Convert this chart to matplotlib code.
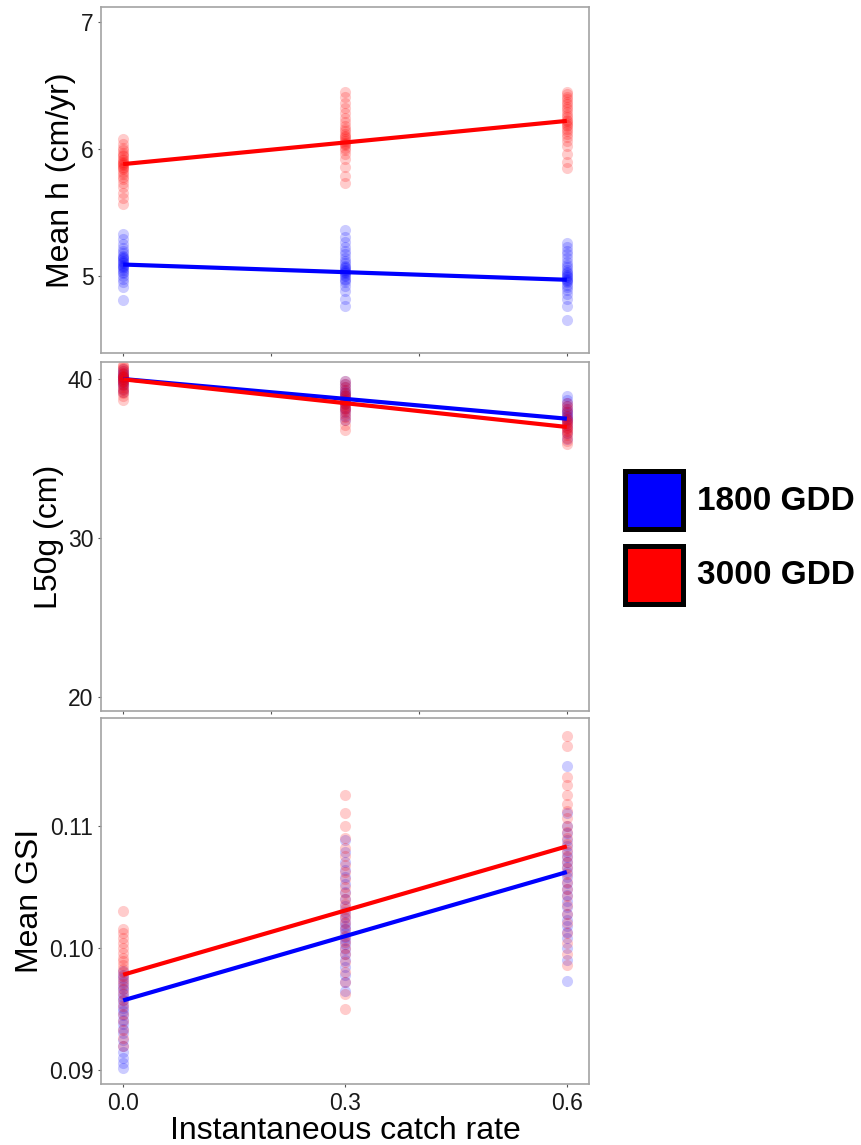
"""
Three stacked panels: mean h, L50g and mean GSI against catch rate, for two GDD levels.
"""
import matplotlib
matplotlib.use("Agg")
import matplotlib.pyplot as plt
from matplotlib.patches import Rectangle

plt.rcParams["font.family"] = ["Liberation Sans", "DejaVu Sans"]

# catch rates used in the simulations
catch_rates = [0.0, 0.3, 0.6]
fit_x = [0.0, 0.6]

# Mean h (cm/yr), one list per catch rate
h_blue = [
    [4.81, 4.91, 4.95, 4.98, 5.00, 5.02, 5.03, 5.05, 5.06, 5.07, 5.08, 5.09, 5.10,
     5.11, 5.12, 5.13, 5.14, 5.15, 5.16, 5.18, 5.20, 5.22, 5.25, 5.29, 5.33],
    [4.76, 4.82, 4.88, 4.92, 4.95, 4.97, 4.98, 5.00, 5.01, 5.02, 5.03, 5.04, 5.05,
     5.06, 5.07, 5.08, 5.10, 5.12, 5.14, 5.17, 5.20, 5.23, 5.27, 5.31, 5.36],
    [4.65, 4.76, 4.82, 4.86, 4.89, 4.91, 4.93, 4.95, 4.96, 4.97, 4.98, 4.99, 5.00,
     5.01, 5.02, 5.03, 5.05, 5.07, 5.09, 5.11, 5.14, 5.17, 5.20, 5.23, 5.26],
]
h_red = [
    [5.57, 5.61, 5.65, 5.70, 5.73, 5.76, 5.78, 5.80, 5.82, 5.84, 5.85, 5.86, 5.87,
     5.88, 5.89, 5.90, 5.91, 5.92, 5.94, 5.95, 5.97, 5.99, 6.01, 6.04, 6.08],
    [5.73, 5.79, 5.86, 5.92, 5.96, 5.99, 6.01, 6.03, 6.04, 6.05, 6.06, 6.08, 6.09,
     6.10, 6.12, 6.14, 6.16, 6.18, 6.21, 6.24, 6.28, 6.32, 6.36, 6.41, 6.45],
    [5.85, 5.90, 5.96, 6.02, 6.06, 6.09, 6.12, 6.14, 6.16, 6.18, 6.19, 6.20, 6.22,
     6.23, 6.25, 6.27, 6.29, 6.31, 6.33, 6.35, 6.37, 6.39, 6.41, 6.43, 6.45],
]
h_fit_blue = [5.09, 4.97]
h_fit_red = [5.88, 6.22]

# L50g (cm)
l_blue = [
    [39.2, 39.4, 39.6, 39.7, 39.8, 39.9, 40.0, 40.0, 40.1, 40.1, 40.2, 40.3, 40.4,
     40.5, 40.6],
    [37.4, 37.7, 37.9, 38.1, 38.2, 38.4, 38.5, 38.6, 38.7, 38.8, 38.9, 39.0, 39.1,
     39.2, 39.3, 39.5, 39.7, 39.9],
    [36.2, 36.6, 36.9, 37.1, 37.3, 37.4, 37.5, 37.6, 37.7, 37.8, 37.9, 38.0, 38.1,
     38.3, 38.5, 38.7, 38.9],
]
l_red = [
    [38.7, 38.9, 39.1, 39.2, 39.3, 39.4, 39.5, 39.6, 39.7, 39.8, 39.9, 39.9, 40.0,
     40.0, 40.1, 40.1, 40.2, 40.2, 40.3, 40.4, 40.5, 40.6, 40.7, 40.8, 40.9],
    [36.8, 37.1, 37.4, 37.6, 37.8, 38.0, 38.1, 38.2, 38.3, 38.4, 38.5, 38.6, 38.7,
     38.8, 38.9, 39.0, 39.1, 39.3, 39.5, 39.7, 39.9],
    [35.9, 36.1, 36.3, 36.5, 36.6, 36.7, 36.8, 36.9, 37.0, 37.1, 37.2, 37.3, 37.4,
     37.5, 37.7, 37.9, 38.1, 38.3, 38.5],
]
l_fit_blue = [40.0, 37.5]
l_fit_red = [39.98, 36.98]

# Mean GSI
g_blue = [
    [0.0902, 0.0906, 0.0910, 0.0915, 0.0920, 0.0925, 0.0930, 0.0934, 0.0938, 0.0941,
     0.0945, 0.0948, 0.0951, 0.0954, 0.0957, 0.0960, 0.0963, 0.0966, 0.0969, 0.0972,
     0.0975, 0.0978, 0.0981],
    [0.0965, 0.0972, 0.0978, 0.0984, 0.0990, 0.0995, 0.0999, 0.1003, 0.1006, 0.1009,
     0.1012, 0.1015, 0.1018, 0.1021, 0.1025, 0.1029, 0.1034, 0.1040, 0.1046, 0.1052,
     0.1058, 0.1064, 0.1070, 0.1078, 0.1088],
    [0.0973, 0.0990, 0.1000, 0.1008, 0.1013, 0.1018, 0.1023, 0.1028, 0.1033, 0.1038,
     0.1043, 0.1048, 0.1053, 0.1058, 0.1062, 0.1066, 0.1070, 0.1074, 0.1078, 0.1083,
     0.1088, 0.1094, 0.1100, 0.1110, 0.1149],
]
g_red = [
    [0.0920, 0.0926, 0.0933, 0.0940, 0.0946, 0.0952, 0.0957, 0.0962, 0.0966, 0.0970,
     0.0974, 0.0977, 0.0980, 0.0983, 0.0986, 0.0989, 0.0992, 0.0996, 0.1000, 0.1004,
     0.1008, 0.1012, 0.1015, 0.1030],
    [0.0950, 0.0962, 0.0972, 0.0980, 0.0988, 0.0995, 0.1000, 0.1005, 0.1010, 0.1015,
     0.1020, 0.1024, 0.1028, 0.1032, 0.1036, 0.1040, 0.1045, 0.1050, 0.1056, 0.1062,
     0.1068, 0.1075, 0.1082, 0.1090, 0.1100, 0.1110, 0.1125],
    [0.0986, 0.0995, 0.1004, 0.1012, 0.1020, 0.1028, 0.1035, 0.1042, 0.1048, 0.1054,
     0.1060, 0.1065, 0.1070, 0.1075, 0.1080, 0.1085, 0.1090, 0.1095, 0.1100, 0.1106,
     0.1112, 0.1118, 0.1125, 0.1133, 0.1140, 0.1165, 0.1173],
]
g_fit_blue = [0.0957, 0.1062]
g_fit_red = [0.0978, 0.1083]

legend_labels = ["1800 GDD", "3000 GDD"]
BLUE = "#0000FF"
RED = "#FF0000"
SPINE = "#a3a3a3"

fig = plt.figure(figsize=(8.62, 11.45), dpi=100)
W, H = 862, 1145


def px_axes(left, top, right, bottom):
    return fig.add_axes([left / W, 1 - bottom / H, (right - left) / W, (bottom - top) / H])


panels = [
    dict(box=(101, 7, 589, 353), blue=h_blue, red=h_red, fb=h_fit_blue, fr=h_fit_red,
         ylim=(4.394, 7.116), yticks=[5, 6, 7], yfmt="{:.0f}", ylabel="Mean h (cm/yr)"),
    dict(box=(101, 362, 589, 711), blue=l_blue, red=l_red, fb=l_fit_blue, fr=l_fit_red,
         ylim=(19.1, 41.07), yticks=[20, 30, 40], yfmt="{:.0f}", ylabel="L50g (cm)"),
    dict(box=(101, 718, 589, 1084), blue=g_blue, red=g_red, fb=g_fit_blue, fr=g_fit_red,
         ylim=(0.08886, 0.1188), yticks=[0.09, 0.10, 0.11], yfmt="{:.2f}", ylabel="Mean GSI"),
]

for i, p in enumerate(panels):
    ax = px_axes(*p["box"])
    for series, col in ((p["blue"], BLUE), (p["red"], RED)):
        for x, vals in zip(catch_rates, series):
            ax.scatter([x] * len(vals), vals, s=64, color=col, alpha=0.2,
                       linewidths=0, zorder=2)
    ax.plot(fit_x, p["fb"], color=BLUE, lw=3, solid_capstyle="butt", zorder=3)
    ax.plot(fit_x, p["fr"], color=RED, lw=3, solid_capstyle="butt", zorder=3)

    ax.set_xlim(-0.03, 0.63)
    ax.set_ylim(*p["ylim"])
    ax.set_yticks(p["yticks"])
    ax.set_yticklabels([p["yfmt"].format(v) for v in p["yticks"]])
    if i < 2:
        ax.set_xticks([0.0, 0.2, 0.4, 0.6])
        ax.set_xticklabels([])
    else:
        ax.set_xticks(catch_rates)
        ax.set_xticklabels(["0.0", "0.3", "0.6"])
        ax.set_xlabel("Instantaneous catch rate", fontsize=23, labelpad=1)
    ax.set_ylabel(p["ylabel"], fontsize=23, labelpad=3)
    for sp in ax.spines.values():
        sp.set_color(SPINE)
        sp.set_linewidth(1.2)
    ax.tick_params(axis="both", length=2.5, width=0.8, color="#555555",
                   labelsize=16.5, labelcolor="#1a1a1a", pad=3)

# legend drawn as plain boxes and text
for k, (lab, col) in enumerate(zip(legend_labels, [BLUE, RED])):
    top = 471.5 + k * 74
    fig.add_artist(Rectangle((625.5 / W, 1 - (top + 58) / H), 58 / W, 58 / H,
                             transform=fig.transFigure, facecolor=col,
                             edgecolor="black", linewidth=3.6))
    fig.text(697 / W, 1 - (top + 30) / H, lab, fontsize=24, fontweight="bold",
             va="center", ha="left")

fig.savefig("out.png", dpi=100)
